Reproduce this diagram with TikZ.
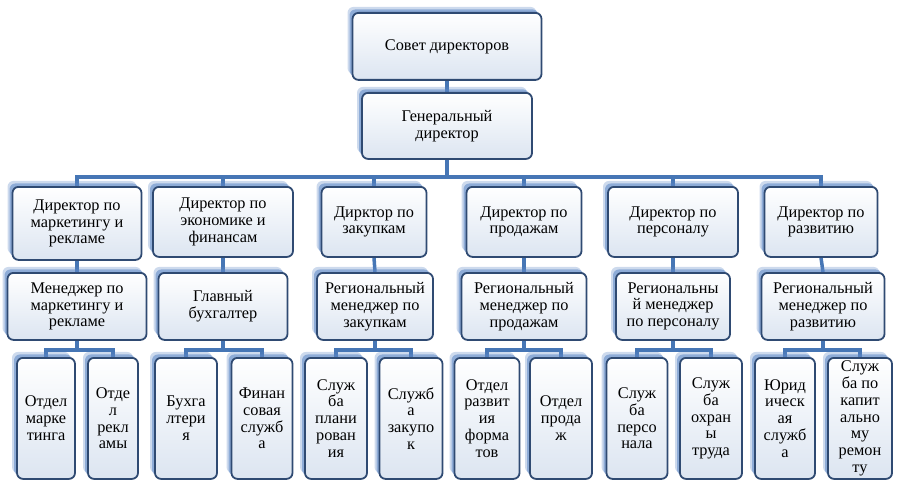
\documentclass[tikz,border=0pt]{standalone}
\usepackage{fontspec}
\setmainfont{Liberation Serif}
\newfontfamily\orgfont{Liberation Serif}
\usetikzlibrary{shadows,backgrounds}
\definecolor{boxline}{HTML}{2F4A72}
\definecolor{boxfill}{HTML}{DCE5F1}
\definecolor{shadowblue}{HTML}{5B86C5}
\definecolor{linkblue}{HTML}{4676B5}
\tikzset{
  orgbox/.style={draw=boxline, line width=1.8pt, rounded corners=6pt,
    top color=white, bottom color=boxfill, align=center, inner sep=1pt,
    anchor=north, font=\orgfont\fontsize{16.3}{16.8}\selectfont,
    general shadow={fill=shadowblue, opacity=0.3, shadow xshift=-5pt, shadow yshift=6pt},
    general shadow={fill=shadowblue, opacity=0.55, shadow xshift=-3pt, shadow yshift=3.5pt}},
  dirbox/.style={orgbox, minimum height=70pt},
  manbox/.style={orgbox, minimum height=67pt},
  lowbox/.style={orgbox, minimum height=121pt},
  link/.style={draw=linkblue, line width=3.5pt},
}
\begin{document}
\begin{tikzpicture}[x=1pt, y=-1pt]
  \useasboundingbox (0,0) rectangle (898,487);
  % верхний уровень
  \node[orgbox, minimum width=189pt, minimum height=67pt] (sovet) at (447,12) {Совет директоров};
  \node[orgbox, minimum width=170pt, minimum height=66pt] (gendir) at (447,92) {Генеральный\\директор};
  % директора
  \node[dirbox, minimum width=129pt, minimum height=73pt] (dir1) at (77,186) {Директор по\\маркетингу и\\рекламе};
  \node[dirbox, minimum width=140pt] (dir2) at (223,186) {Директор по\\экономике и\\финансам};
  \node[dirbox, minimum width=105pt] (dir3) at (374,186) {Дирктор по\\закупкам};
  \node[dirbox, minimum width=115pt] (dir4) at (524,186) {Директор по\\продажам};
  \node[dirbox, minimum width=130pt] (dir5) at (673,186) {Директор по\\персоналу};
  \node[dirbox, minimum width=113pt] (dir6) at (821,186) {Директор по\\развитию};
  % менеджеры
  \node[manbox, minimum width=139pt] (man1) at (77,272) {Менеджер по\\маркетингу и\\рекламе};
  \node[manbox, minimum width=129pt] (man2) at (223,272) {Главный\\бухгалтер};
  \node[manbox, minimum width=116pt] (man3) at (375,272) {Региональный\\менеджер по\\закупкам};
  \node[manbox, minimum width=125pt] (man4) at (524,272) {Региональный\\менеджер по\\продажам};
  \node[manbox, minimum width=114pt] (man5) at (673,272) {Региональны\\й менеджер\\по персоналу};
  \node[manbox, minimum width=123pt] (man6) at (823,272) {Региональный\\менеджер по\\развитию};
  % отделы и службы
  \node[lowbox, minimum width=58pt] (lowa1) at (46,357) {Отдел\\марке\\тинга};
  \node[lowbox, minimum width=50pt] (lowb1) at (113,357) {Отде\\л\\рекл\\амы};
  \node[lowbox, minimum width=62pt] (lowa2) at (186,357) {Бухга\\лтери\\я};
  \node[lowbox, minimum width=61pt] (lowb2) at (262,357) {Финан\\совая\\служб\\а};
  \node[lowbox, minimum width=62pt] (lowa3) at (336,357) {Служ\\ба\\плани\\рован\\ия};
  \node[lowbox, minimum width=63pt] (lowb3) at (411,357) {Служб\\а\\закупо\\к};
  \node[lowbox, minimum width=65pt] (lowa4) at (487,357) {Отдел\\развит\\ия\\форма\\тов};
  \node[lowbox, minimum width=62pt] (lowb4) at (561,357) {Отдел\\прода\\ж};
  \node[lowbox, minimum width=61pt] (lowa5) at (637,357) {Служ\\ба\\персо\\нала};
  \node[lowbox, minimum width=62pt] (lowb5) at (711,357) {Служ\\ба\\охран\\ы\\труда};
  \node[lowbox, minimum width=60pt] (lowa6) at (785,357) {Юрид\\ическ\\ая\\служб\\а};
  \node[lowbox, minimum width=64pt] (lowb6) at (860,357) {Служ\\ба по\\капит\\ально\\му\\ремон\\ту};
  % связи
  \begin{scope}[on background layer]
    \draw[link] (sovet.south) -- (gendir.north);
    \foreach \i in {1,...,6} {
      \draw[link] (gendir.south) -- ++(0,17) -| (dir\i.north);
      \draw[link] (dir\i.south) -- (man\i.north);
      \draw[link] (man\i.south) -- ++(0,9) -| (lowa\i.north);
      \draw[link] (man\i.south) -- ++(0,9) -| (lowb\i.north);
    }
  \end{scope}
\end{tikzpicture}
\end{document}
